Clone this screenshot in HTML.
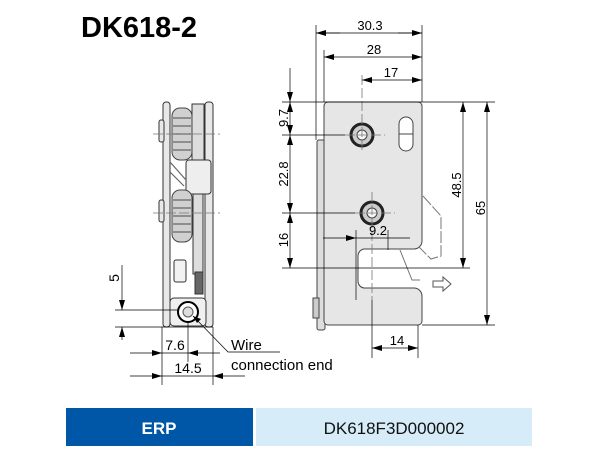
<!DOCTYPE html>
<html><head><style>
body{margin:0;background:#fff}
svg text{font-family:"Liberation Sans",sans-serif}
</style></head><body>
<svg width="600" height="450" viewBox="0 0 600 450" xmlns="http://www.w3.org/2000/svg">
<defs>
<marker id="a" viewBox="0 0 10 6" refX="10" refY="3" markerWidth="10" markerHeight="6" orient="auto-start-reverse" markerUnits="userSpaceOnUse"><path d="M0,0L10,3L0,6z" fill="#000"/></marker>
</defs>
<text x="81" y="37" font-size="29" font-weight="bold">DK618-2</text>

<!-- side view -->
<g stroke="#333" stroke-width="1" fill="#e8e8e8">
<rect x="163" y="102" width="7" height="225" rx="3"/>
<rect x="159" y="120" width="5" height="22" rx="2"/>
<rect x="159" y="200" width="5" height="22" rx="2"/>
<rect x="205" y="102" width="8" height="225" rx="3"/>
<rect x="192" y="104" width="12" height="58" fill="#ddd"/>
<rect x="186" y="160" width="25" height="34" rx="3" fill="#eee"/>
<rect x="193" y="194" width="10" height="80" fill="#ddd"/>
<rect x="195" y="272" width="8" height="22" fill="#666"/>
<rect x="174" y="260" width="12" height="22" rx="2" fill="#f2f2f2"/>
<rect x="170" y="298" width="36" height="28" rx="4" fill="#f0f0f0"/>
</g>
<g stroke="#444" fill="#d0d0d0">
<rect x="172" y="108" width="20" height="52" rx="8"/>
<rect x="172" y="190" width="20" height="52" rx="8"/>
</g>
<g stroke="#666" fill="none" stroke-width="1.2">
<path d="M173 118h18M173 126h18M173 134h18M173 142h18M173 150h18"/>
<path d="M173 200h18M173 208h18M173 216h18M173 224h18M173 232h18"/>
<path d="M170 162l16 18M170 172l14 14"/>
</g>
<circle cx="188" cy="312" r="10" fill="#fff" stroke="#000" stroke-width="2"/>
<circle cx="188" cy="312" r="5" fill="#ddd" stroke="#555"/>
<g stroke="#777" stroke-width="0.8" stroke-dasharray="10,3">
<line x1="153" y1="134" x2="220" y2="134"/>
<line x1="153" y1="213" x2="220" y2="213"/>
</g>
<g stroke="#000" stroke-width="0.7" fill="none">
<line x1="115" y1="310" x2="178" y2="310"/>
<line x1="115" y1="327" x2="213" y2="327"/>
<line x1="122" y1="265" x2="122" y2="310" marker-end="url(#a)"/>
<line x1="122" y1="340" x2="122" y2="327" marker-end="url(#a)"/>
<line x1="162" y1="327" x2="162" y2="385"/>
<line x1="188" y1="322" x2="188" y2="362"/>
<line x1="213" y1="327" x2="213" y2="385"/>
<line x1="130" y1="353" x2="162" y2="353" marker-end="url(#a)"/>
<line x1="220" y1="353" x2="188" y2="353" marker-end="url(#a)"/>
<line x1="130" y1="376" x2="162" y2="376" marker-end="url(#a)"/>
<line x1="245" y1="376" x2="213" y2="376" marker-end="url(#a)"/>
<line x1="162" y1="353" x2="188" y2="353"/>
<line x1="162" y1="376" x2="213" y2="376"/>
<polyline points="280,352 228,352 193,316" />
</g>
<path d="M193 316l8 3-4 4z" fill="#000"/>
<text x="119" y="278" font-size="14" transform="rotate(-90 119 278)" text-anchor="middle">5</text>
<text x="175" y="350" font-size="14" text-anchor="middle">7.6</text>
<text x="188" y="373" font-size="14" text-anchor="middle">14.5</text>
<text x="231" y="350" font-size="15">Wire</text>
<text x="231" y="370" font-size="15">connection end</text>

<!-- front view -->
<g stroke="#444" stroke-width="1" fill="#ececec">
<rect x="317" y="140" width="8" height="190" rx="2" fill="#ddd"/>
<rect x="313" y="298" width="6" height="20" fill="#ccc"/>
<path d="M328 102h90a4 4 0 0 1 4 4v135a8 8 0 0 1-8 8h-50a7 7 0 0 0-6 7v25a7 7 0 0 0 6 7h50a8 8 0 0 1 8 8v25a4 4 0 0 1-4 4h-90a4 4 0 0 1-4-4v-215a4 4 0 0 1 4-4z" fill="#e6e6e6"/>
<rect x="399" y="117" width="14" height="34" rx="7" fill="#fff"/>
<line x1="399" y1="134" x2="413" y2="134"/>
</g>
<path d="M400 250l12 30h8" stroke="#777" fill="none"/>
<path d="M423 196l18 20v40l-10 3-12-12" stroke="#777" fill="none" stroke-dasharray="12,2"/>
<circle cx="362" cy="135" r="11" fill="#ccc" stroke="#222" stroke-width="3"/>
<circle cx="362" cy="135" r="5" fill="#f5f5f5" stroke="#444"/>
<circle cx="372" cy="213" r="11" fill="#ccc" stroke="#222" stroke-width="3"/>
<circle cx="372" cy="213" r="5" fill="#f5f5f5" stroke="#444"/>
<path d="M433 281h10v-4l8 7-8 7v-4h-10z" fill="#fff" stroke="#555"/>
<g stroke="#777" stroke-width="0.8" stroke-dasharray="10,3" fill="none">
<line x1="362" y1="75" x2="362" y2="152"/>
<line x1="345" y1="135" x2="385" y2="135"/>
<line x1="372" y1="192" x2="372" y2="300"/>
<line x1="355" y1="213" x2="395" y2="213"/>
</g>
<g stroke="#000" stroke-width="0.7" fill="none">
<line x1="316" y1="25" x2="316" y2="140"/>
<line x1="324" y1="50" x2="324" y2="102"/>
<line x1="422" y1="25" x2="422" y2="102"/>
<line x1="340" y1="33" x2="316" y2="33" marker-end="url(#a)"/>
<line x1="398" y1="33" x2="422" y2="33" marker-end="url(#a)"/>
<line x1="316" y1="33" x2="422" y2="33"/>
<line x1="324" y1="57" x2="422" y2="57" marker-start="url(#a)" marker-end="url(#a)"/>
<line x1="362" y1="80" x2="422" y2="80" marker-start="url(#a)" marker-end="url(#a)"/>
<line x1="282" y1="102" x2="495" y2="102"/>
<line x1="282" y1="135" x2="345" y2="135"/>
<line x1="282" y1="213" x2="355" y2="213"/>
<line x1="282" y1="268" x2="470" y2="268"/>
<line x1="422" y1="325" x2="495" y2="325"/>
<line x1="290" y1="68" x2="290" y2="102" marker-end="url(#a)"/>
<line x1="290" y1="102" x2="290" y2="135" marker-start="url(#a)" marker-end="url(#a)"/>
<line x1="290" y1="135" x2="290" y2="213" marker-start="url(#a)" marker-end="url(#a)"/>
<line x1="290" y1="213" x2="290" y2="268" marker-start="url(#a)" marker-end="url(#a)"/>
<line x1="463" y1="102" x2="463" y2="268" marker-start="url(#a)" marker-end="url(#a)"/>
<line x1="487" y1="102" x2="487" y2="325" marker-start="url(#a)" marker-end="url(#a)"/>
<line x1="323" y1="238" x2="356" y2="238" marker-end="url(#a)"/>
<line x1="356" y1="230" x2="356" y2="300"/>
<line x1="388" y1="230" x2="388" y2="250"/>
<line x1="356" y1="238" x2="410" y2="238"/>
<line x1="372" y1="300" x2="372" y2="358"/>
<line x1="418" y1="325" x2="418" y2="358"/>
<line x1="372" y1="348" x2="418" y2="348" marker-start="url(#a)" marker-end="url(#a)"/>
</g>
<text x="370" y="30" font-size="13" text-anchor="middle">30.3</text>
<text x="374" y="54" font-size="13" text-anchor="middle">28</text>
<text x="391" y="77" font-size="13" text-anchor="middle">17</text>
<text x="288" y="118" font-size="13" text-anchor="middle" transform="rotate(-90 288 118)">9.7</text>
<text x="288" y="174" font-size="13" text-anchor="middle" transform="rotate(-90 288 174)">22.8</text>
<text x="288" y="240" font-size="13" text-anchor="middle" transform="rotate(-90 288 240)">16</text>
<text x="461" y="185" font-size="13" text-anchor="middle" transform="rotate(-90 461 185)">48.5</text>
<text x="485" y="208" font-size="13" text-anchor="middle" transform="rotate(-90 485 208)">65</text>
<text x="378" y="235" font-size="13" text-anchor="middle">9.2</text>
<text x="397" y="345" font-size="13" text-anchor="middle">14</text>

<!-- table -->
<rect x="66" y="408" width="187" height="38" fill="#0057a8"/>
<rect x="256" y="408" width="276" height="38" fill="#d6ecf8"/>
<text x="159" y="434" font-size="17" font-weight="bold" fill="#fff" text-anchor="middle">ERP</text>
<text x="394" y="434" font-size="17" fill="#111" text-anchor="middle">DK618F3D000002</text>
</svg>
</body></html>
